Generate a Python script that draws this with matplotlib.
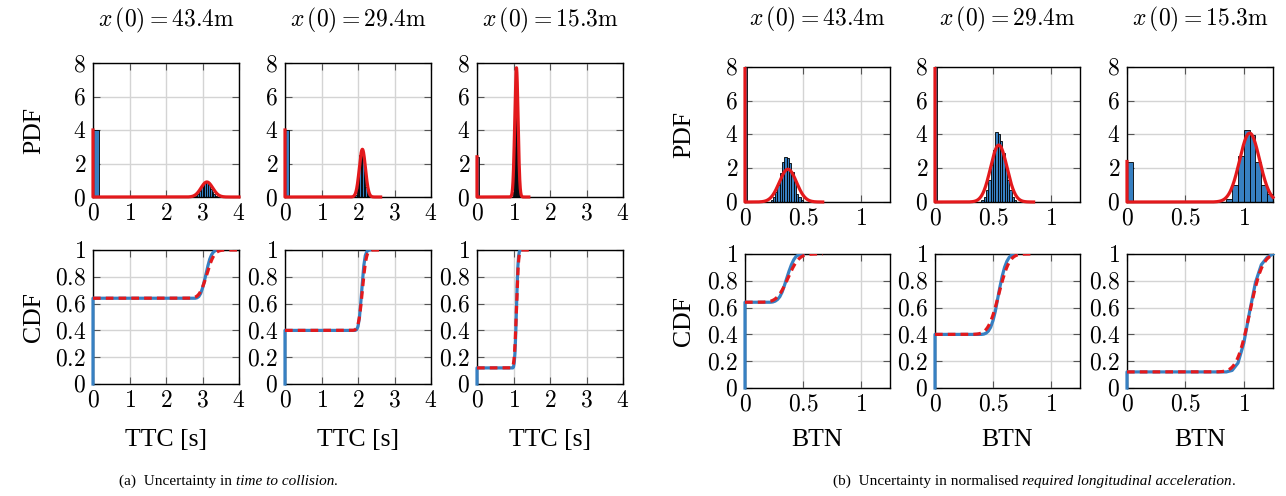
import math
import numpy as np
import matplotlib
matplotlib.use("Agg")
import matplotlib.pyplot as plt
from matplotlib.patches import Rectangle

plt.rcParams["font.family"] = "Liberation Serif"
plt.rcParams["mathtext.fontset"] = "cm"

x0_labels = ["43.4", "29.4", "15.3"]

# time to collision [s]
ttc_p0 = [0.64, 0.40, 0.12]          # share of samples sitting at zero
ttc_zero_w = [0.16, 0.10, 0.05]      # width of the zero bin
ttc_bin_start = [2.80, 1.92, 0.98]
ttc_bin_w = [0.05, 0.04, 0.02]
ttc_hist = [
    [0.05, 0.15, 0.35, 0.60, 0.80, 0.88, 0.90, 0.75, 0.50, 0.30, 0.15, 0.06, 0.02],
    [0.10, 0.50, 1.40, 2.50, 2.80, 2.60, 1.50, 0.60, 0.20, 0.05],
    [0.30, 1.20, 3.00, 5.50, 7.50, 7.60, 5.80, 3.20, 1.30, 0.40, 0.10],
]
ttc_mu = [3.12, 2.12, 1.08]
ttc_sigma = [0.16, 0.084, 0.0455]
ttc_fit_end = [4.0, 2.62, 1.42]

# normalised required longitudinal acceleration
btn_p0 = [0.64, 0.40, 0.12]
btn_zero_w = [0.02, 0.02, 0.05]
btn_bin_start = [0.22, 0.40, 0.85]
btn_bin_w = [0.02, 0.02, 0.05]
btn_hist = [
    [0.10, 0.30, 0.60, 1.00, 1.70, 2.40, 2.65, 2.60, 2.30, 1.80, 1.20, 0.50, 0.30, 0.10],
    [0.10, 0.30, 0.70, 1.30, 2.20, 3.10, 4.15, 4.05, 3.60, 2.90, 2.00, 1.30, 0.70, 0.30, 0.10],
    [0.20, 1.00, 2.70, 4.25, 3.95, 2.40, 1.00, 0.45],
]
btn_mu = [0.37, 0.55, 1.05]
btn_sigma = [0.074, 0.071, 0.086]
btn_fit_end = [0.67, 0.85, 1.25]

BLUE = "#3780c2"
RED = "#e3191c"

W, H = 1286, 496
fig = plt.figure(figsize=(W / 100, H / 100), dpi=100)


def add_ax(left, top, right, bottom):
    return fig.add_axes([left / W, 1 - bottom / H, (right - left) / W, (bottom - top) / H])


def style(ax, xmax, xticks, yticks):
    ax.set_xlim(0, xmax)
    ax.set_ylim(yticks[0], yticks[-1])
    ax.set_xticks(xticks)
    ax.set_xticklabels([f"${t:g}$" for t in xticks])
    ax.set_yticks(yticks)
    ax.set_yticklabels([f"${t:g}$" for t in yticks])
    ax.grid(True, color="#d4d4d4", lw=1)
    ax.set_axisbelow(True)
    ax.tick_params(direction="in", top=True, right=True, length=5, width=0.8,
                   color="#555555", labelsize=17, pad=5)
    for s in ax.spines.values():
        s.set_linewidth(1.0)


def loose_clip(line, ax):
    # let lines sit on the left/bottom frame instead of being cut in half
    line.set_clip_path(Rectangle((-0.03, -0.03), 1.06, 1.03, transform=ax.transAxes))


def draw_pdf(ax, p0, zw, start, bw, h, mu, sigma, end):
    h = np.asarray(h)
    edges = start + bw * np.arange(len(h))
    ax.bar(0, p0 / zw, width=zw, align="edge", color=BLUE, edgecolor="black", lw=0.6)
    ax.bar(edges, h, width=bw, align="edge", color=BLUE, edgecolor="black", lw=0.6)
    grid = np.linspace(0, end, 600)
    pdf = (1 - p0) / (sigma * math.sqrt(2 * math.pi)) * np.exp(-0.5 * ((grid - mu) / sigma) ** 2)
    line, = ax.plot(np.r_[0, grid], np.r_[p0 / zw, pdf], color=RED, lw=2.3,
                    zorder=4, solid_joinstyle="round")
    loose_clip(line, ax)


def draw_cdf(ax, p0, start, bw, h, mu, sigma, end):
    h = np.asarray(h)
    edges = start + bw * np.arange(len(h) + 1)
    cum = p0 + (1 - p0) * np.r_[0, np.cumsum(h)] / h.sum()
    line, = ax.plot(np.r_[0, 0, edges], np.r_[0, p0, cum], color=BLUE, lw=2.3, zorder=3)
    loose_clip(line, ax)
    grid = np.linspace(0, end, 600)
    phi = np.array([0.5 * (1 + math.erf((g - mu) / (sigma * math.sqrt(2)))) for g in grid])
    fit, = ax.plot(grid, p0 + (1 - p0) * phi, color=RED, lw=2.3, ls=(0, (2.4, 1.6)), zorder=4)
    loose_clip(fit, ax)


pdf_ticks = [0, 2, 4, 6, 8]
cdf_ticks = [0, 0.2, 0.4, 0.6, 0.8, 1]

# (a) time to collision
ttc_cols = [(93, 239), (285, 431), (477, 623)]
for i, (l, r) in enumerate(ttc_cols):
    ax = add_ax(l, 63, r, 197)
    draw_pdf(ax, ttc_p0[i], ttc_zero_w[i], ttc_bin_start[i], ttc_bin_w[i], ttc_hist[i],
             ttc_mu[i], ttc_sigma[i], ttc_fit_end[i])
    style(ax, 4, [0, 1, 2, 3, 4], pdf_ticks)
    ax.text(0.5, 1.32, rf"$x\,(0) = {x0_labels[i]}\mathrm{{m}}$", transform=ax.transAxes,
            ha="center", va="center", fontsize=17)
    if i == 0:
        ax.set_ylabel("PDF", fontsize=18.5)
        ax.yaxis.set_label_coords(-0.33, 0.5)

    ax = add_ax(l, 250, r, 384)
    draw_cdf(ax, ttc_p0[i], ttc_bin_start[i], ttc_bin_w[i], ttc_hist[i],
             ttc_mu[i], ttc_sigma[i], ttc_fit_end[i])
    style(ax, 4, [0, 1, 2, 3, 4], cdf_ticks)
    ax.set_xlabel("TTC [s]", fontsize=18.5, va="center")
    ax.xaxis.set_label_coords(0.5, -0.42)
    if i == 0:
        ax.set_ylabel("CDF", fontsize=18.5)
        ax.yaxis.set_label_coords(-0.33, 0.5)

# (b) normalised required longitudinal acceleration
btn_cols = [(745, 890), (935, 1080), (1127, 1273)]
for i, (l, r) in enumerate(btn_cols):
    ax = add_ax(l, 67, r, 202)
    draw_pdf(ax, btn_p0[i], btn_zero_w[i], btn_bin_start[i], btn_bin_w[i], btn_hist[i],
             btn_mu[i], btn_sigma[i], btn_fit_end[i])
    style(ax, 1.25, [0, 0.5, 1], pdf_ticks)
    ax.text(0.5, 1.35, rf"$x\,(0) = {x0_labels[i]}\mathrm{{m}}$", transform=ax.transAxes,
            ha="center", va="center", fontsize=17)
    if i == 0:
        ax.set_ylabel("PDF", fontsize=18.5)
        ax.yaxis.set_label_coords(-0.345, 0.5)

    ax = add_ax(l, 254, r, 388)
    draw_cdf(ax, btn_p0[i], btn_bin_start[i], btn_bin_w[i], btn_hist[i],
             btn_mu[i], btn_sigma[i], btn_fit_end[i])
    style(ax, 1.25, [0, 0.5, 1], cdf_ticks)
    ax.set_xlabel("BTN", fontsize=18.5, va="center")
    ax.xaxis.set_label_coords(0.5, -0.39)
    if i == 0:
        ax.set_ylabel("CDF", fontsize=18.5)
        ax.yaxis.set_label_coords(-0.345, 0.5)


def caption(x, pieces):
    prev = fig.text(x / W, 1 - 481 / H, pieces[0][0], fontsize=11, va="center",
                    style=pieces[0][1])
    for txt, st in pieces[1:]:
        prev = ax.annotate(txt, xy=(1, 0), xycoords=prev, ha="left", va="bottom",
                           fontsize=11, style=st, annotation_clip=False)


caption(119, [("(a)  Uncertainty in ", "normal"), ("time to collision", "italic"),
              (".", "normal")])
caption(833, [("(b)  Uncertainty in normalised ", "normal"),
              ("required longitudinal acceleration", "italic"), (".", "normal")])

fig.savefig("out.png", dpi=100)
